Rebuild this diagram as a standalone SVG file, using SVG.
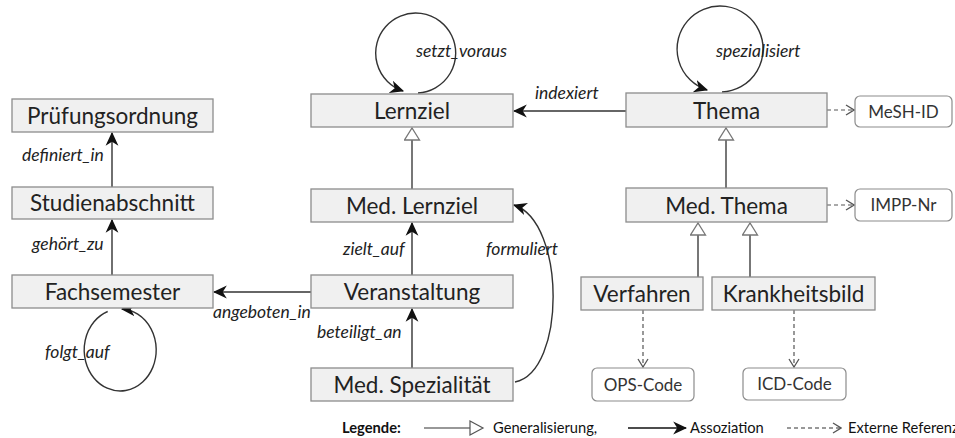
<svg xmlns="http://www.w3.org/2000/svg" width="955" height="438" viewBox="0 0 955 438">
<style>
.node rect{fill:#f0f0f0;stroke:#8c8c8c;stroke-width:1.3}
.ext rect{fill:#fff;stroke:#8c8c8c;stroke-width:1.2}
.nt{font-family:Lato,"Open Sans",sans-serif;font-size:22.5px;fill:#222;text-anchor:middle}
.et{font-family:Lato,"Open Sans",sans-serif;font-size:17px;fill:#333;text-anchor:middle}
.lbl{font-family:Lato,"Open Sans",sans-serif;font-size:17.5px;font-style:italic;fill:#222}
.assoc{fill:none;stroke:#333;stroke-width:1.4;marker-end:url(#arr)}
.gen{fill:none;stroke:#777;stroke-width:2;marker-end:url(#tri)}
.ref{fill:none;stroke:#555;stroke-width:1.2;stroke-dasharray:4 3;marker-end:url(#varr)}
.lg{font-family:Lato,"Open Sans",sans-serif;font-size:14.7px;fill:#111}
</style>
<defs>
<marker id="arr" markerUnits="userSpaceOnUse" markerWidth="14" markerHeight="14" viewBox="0 0 12 12" refX="11" refY="6" orient="auto">
<path d="M0,0.5 L12,6 L0,11.5 L3.5,6 z" fill="#111"/>
</marker>
<marker id="tri" markerUnits="userSpaceOnUse" markerWidth="14" markerHeight="17" viewBox="0 0 14 17" refX="13" refY="8.5" orient="auto">
<path d="M1,1 L13,8.5 L1,16 z" fill="#fff" stroke="#777" stroke-width="1.3"/>
</marker>
<marker id="varr" markerUnits="userSpaceOnUse" markerWidth="10" markerHeight="12" viewBox="0 0 10 12" refX="9" refY="6" orient="auto">
<path d="M1,1 L9,6 L1,11" fill="none" stroke="#555" stroke-width="1.3"/>
</marker>
</defs>

<g id="connectors">
<!-- generalizations -->
<path class="gen" d="M412,189 L412,128"/>
<path class="gen" d="M726,188 L726,128"/>
<path class="gen" d="M698,277 L698,223"/>
<path class="gen" d="M750,277 L750,223"/>
<!-- associations -->
<path class="assoc" d="M112,187 L112,133"/>
<text class="lbl" x="22" y="161">definiert_in</text>
<path class="assoc" d="M112,275 L112,220"/>
<text class="lbl" x="32" y="250">gehört_zu</text>
<path class="assoc" d="M311,292 L214,292"/>
<text class="lbl" x="213" y="318">angeboten_in</text>
<path class="assoc" d="M412,275 L412,223"/>
<text class="lbl" x="343" y="255">zielt_auf</text>
<path class="assoc" d="M412,368 L412,309"/>
<text class="lbl" x="317" y="338">beteiligt_an</text>
<path class="assoc" d="M626,111 L514,111"/>
<text class="lbl" x="535" y="99">indexiert</text>
<path class="assoc" d="M515,382 C566,372 566,222 514,205"/>
<text class="lbl" x="486" y="255">formuliert</text>
<path class="assoc" d="M418,93 A40,40 0 1 0 403,91"/>
<text class="lbl" x="416" y="57">setzt_voraus</text>
<path class="assoc" d="M722,92 A43,43 0 1 0 707,90"/>
<text class="lbl" x="716" y="57">spezialisiert</text>
<path class="assoc" d="M107.7,311.5 A36,41 0 1 0 122,309"/>
<text class="lbl" x="45" y="358">folgt_auf</text>
<!-- external references -->
<path class="ref" d="M827,110 L854,110"/>
<path class="ref" d="M827,205 L854,205"/>
<path class="ref" d="M643,310 L643,367"/>
<path class="ref" d="M794,310 L794,367"/>
</g>

<g id="Pruefungsordnung" class="node"><rect x="12" y="99" width="201" height="33"/><text class="nt" x="112.5" y="123.5">Prüfungsordnung</text></g>
<g id="Studienabschnitt" class="node"><rect x="12" y="187" width="201" height="32"/><text class="nt" x="112.5" y="211">Studienabschnitt</text></g>
<g id="Fachsemester" class="node"><rect x="12" y="275" width="201" height="33"/><text class="nt" x="112.5" y="299.5">Fachsemester</text></g>
<g id="Lernziel" class="node"><rect x="311" y="94" width="202" height="33"/><text class="nt" x="412" y="118.5">Lernziel</text></g>
<g id="MedLernziel" class="node"><rect x="311" y="189" width="202" height="33"/><text class="nt" x="412" y="213.5">Med. Lernziel</text></g>
<g id="Veranstaltung" class="node"><rect x="311" y="275" width="202" height="33"/><text class="nt" x="412" y="299.5">Veranstaltung</text></g>
<g id="MedSpezialitaet" class="node"><rect x="311" y="368" width="202" height="33"/><text class="nt" x="412" y="392.5">Med. Spezialität</text></g>
<g id="Thema" class="node"><rect x="626" y="93" width="201" height="34"/><text class="nt" x="726.5" y="118.5">Thema</text></g>
<g id="MedThema" class="node"><rect x="626" y="188" width="201" height="34"/><text class="nt" x="726.5" y="213.5">Med. Thema</text></g>
<g id="Verfahren" class="node"><rect x="581" y="277" width="122" height="33"/><text class="nt" x="642" y="301.5">Verfahren</text></g>
<g id="Krankheitsbild" class="node"><rect x="712" y="277" width="163" height="33"/><text class="nt" x="793.5" y="301.5">Krankheitsbild</text></g>
<g id="MeSH-ID" class="ext"><rect x="855" y="96" width="97" height="31" rx="5"/><text class="et" x="903.5" y="117.5">MeSH-ID</text></g>
<g id="IMPP-Nr" class="ext"><rect x="855" y="189" width="97" height="32" rx="5"/><text class="et" x="903.5" y="211">IMPP-Nr</text></g>
<g id="OPS-Code" class="ext"><rect x="592" y="368" width="102" height="33" rx="5"/><text class="et" x="643" y="390.5">OPS-Code</text></g>
<g id="ICD-Code" class="ext"><rect x="743" y="368" width="103" height="32" rx="5"/><text class="et" x="794.5" y="390">ICD-Code</text></g>

<g id="legend">
<text class="lg" x="342" y="433" font-weight="bold">Legende:</text>
<path d="M424,428 L470,428" stroke="#333" stroke-width="1.2" fill="none"/>
<path d="M470,421 L483,428 L470,435 z" fill="#fff" stroke="#555" stroke-width="1.2"/>
<text class="lg" x="493" y="433">Generalisierung,</text>
<path d="M628,428 L686,428" stroke="#111" stroke-width="1.4" fill="none" marker-end="url(#arr)"/>
<text class="lg" x="690" y="433">Assoziation</text>
<path d="M787,428 L841,428" stroke="#333" stroke-width="1.2" stroke-dasharray="4 3" fill="none" marker-end="url(#varr)"/>
<text class="lg" x="848" y="433">Externe Referenz</text>
</g>
</svg>
